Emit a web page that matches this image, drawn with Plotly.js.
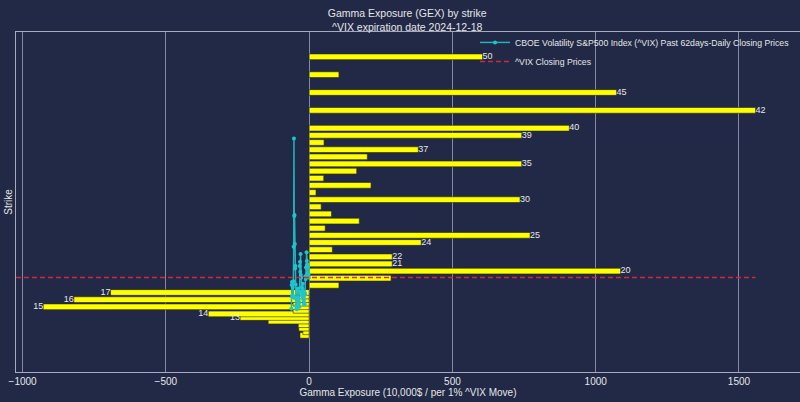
<!DOCTYPE html>
<html>
<head>
<meta charset="utf-8">
<script src="https://cdn.plot.ly/plotly-3.0.1.min.js"></script>
<style>
html, body { margin: 0; padding: 0; background: #212946; }
#plot { width: 800px; height: 402px; }
</style>
</head>
<body>
<div id="plot"></div>
<script>
// GEX by strike for ^VIX options expiring 2024-12-18
let strikes = [11, 11.5, 12, 12.5, 13, 13.5, 14, 14.5, 15, 15.5, 16, 16.5, 17,
    18, 19, 20, 21, 22, 23, 24, 25, 26, 27, 28, 29, 30, 31, 32, 33, 34, 35,
    36, 37, 38, 39, 40, 42.5, 45, 47.5, 50]
let gex = [-32, -22, -36, -38, -143, -241, -352, -56, -928, -56, -821, -56, -693,
    104, 286, 1087, 290, 290, 81, 391, 771, 56, 175, 78, 42, 736, 24, 216, 51, 166, 742,
    203, 381, 52, 742, 908, 1558, 1073, 104, 605]
// text shown at the end of the bigger bars ('' = no label)
let barLabels = ['', '', '', '', '', '13', '14', '', '15', '', '16', '', '17',
    '', '', '20', '21', '22', '', '24', '25', '', '', '', '', '30', '', '', '', '', '35',
    '', '37', '', '39', '40', '42', '45', '', '50']

// past 62 daily closes of ^VIX, oldest first
let vixClose = [14.72, 18.04, 18.46, 16.39, 16.60, 17.69, 16.36,
    18.59, 23.39, 38.57, 27.71, 27.85, 23.79, 20.37, 20.71, 18.12, 16.19, 15.23, 14.80,
    14.65, 15.88, 16.27, 17.55, 15.86, 16.15, 15.43, 17.11, 15.65, 15.00,
    20.72, 21.32, 19.90, 22.38, 19.45, 19.08, 17.69, 17.07, 16.56, 17.14, 17.61, 18.23,
    16.33, 16.15, 15.89, 15.39, 15.41, 15.37, 16.96, 16.73,
    19.26, 18.90, 20.49, 19.21, 22.64, 21.42, 20.86, 20.93, 20.46, 19.70, 20.64, 19.58, 19.11]

let xRange = [-1023, 1713]
let yRange = [5.87, 53.47]

// day offsets, -62 ... -1
let vixDays = vixClose.map((v, i) => i - vixClose.length)
let lastClose = vixClose[vixClose.length - 1]

let textColor = '#e6e6e6'
let fontFamily = 'Liberation Sans, Arial, sans-serif'

// split the labels into the right side (positive) and left side (negative)
let posX = [], posY = [], posT = []
let negX = [], negY = [], negT = []
for (var i = 0; i < strikes.length; i++)
{
    if (barLabels[i] === '') continue;
    if (gex[i] >= 0) {
        posX.push(gex[i]); posY.push(strikes[i]); posT.push(barLabels[i]);
    } else {
        negX.push(gex[i]); negY.push(strikes[i]); negT.push(barLabels[i]);
    }
}

let barTrace = {
    type: 'bar',
    orientation: 'h',
    x: gex,
    y: strikes,
    width: 0.8,
    marker: { color: '#ffff00', line: { color: '#2a2a1c', width: 0.6 } },
    showlegend: false,
    hoverinfo: 'x+y'
}

let posText = {
    type: 'scatter', mode: 'text',
    x: posX, y: posY, text: posT,
    textposition: 'middle right',
    textfont: { color: textColor, size: 9, family: fontFamily },
    showlegend: false, cliponaxis: false
}

let negText = {
    type: 'scatter', mode: 'text',
    x: negX, y: negY, text: negT,
    textposition: 'middle left',
    textfont: { color: textColor, size: 9, family: fontFamily },
    showlegend: false, cliponaxis: false
}

let vixTrace = {
    type: 'scatter',
    mode: 'lines+markers',
    x: vixDays,
    y: vixClose,
    name: 'CBOE Volatility S&P500 Index (^VIX) Past 62days-Daily Closing Prices',
    line: { color: '#1fb3bf', width: 1.5 },
    marker: { color: '#22c4cc', size: 4 }
}

let closeLine = {
    type: 'scatter',
    mode: 'lines',
    x: [xRange[0], Math.max(...gex)],
    y: [lastClose, lastClose],
    name: '^VIX Closing Prices',
    line: { color: '#d2283a', width: 1.5, dash: '5px,3px' }
}

let data = [barTrace, posText, negText, vixTrace, closeLine]

let layout = {
    width: 800,
    height: 402,
    paper_bgcolor: '#212946',
    plot_bgcolor: '#212946',
    font: { family: fontFamily, color: textColor, size: 10 },
    margin: { l: 16, r: 0, t: 32, b: 30, pad: 0, autoexpand: false },
    title: {
        text: 'Gamma Exposure (GEX) by strike<br>^VIX expiration date 2024-12-18',
        font: { size: 10.5, color: textColor },
        x: 0.509, xanchor: 'center',
        y: 0.958, yanchor: 'top', yref: 'container'
    },
    xaxis: {
        range: xRange,
        tickvals: [-1000, -500, 0, 500, 1000, 1500],
        showgrid: true,
        gridcolor: 'rgba(200,204,218,0.6)',
        gridwidth: 1,
        zeroline: false,
        showline: true,
        linecolor: 'rgba(210,214,228,0.75)',
        linewidth: 1,
        mirror: true,
        ticks: '',
        tickfont: { size: 10, color: textColor },
        automargin: false,
        title: { text: 'Gamma Exposure (10,000$ / per 1% ^VIX Move)', font: { size: 10 }, standoff: 2 }
    },
    yaxis: {
        range: yRange,
        showgrid: false,
        zeroline: false,
        showticklabels: false,
        showline: true,
        linecolor: 'rgba(210,214,228,0.75)',
        linewidth: 1,
        mirror: true,
        ticks: '',
        automargin: false,
        title: { text: 'Strike', font: { size: 10 }, standoff: 0 }
    },
    legend: {
        x: 0.5855, y: 1.012,
        xanchor: 'left', yanchor: 'top',
        bgcolor: 'rgba(0,0,0,0)',
        font: { size: 8.7, color: textColor }
    },
    showlegend: true,
    bargap: 0
}

Plotly.newPlot('plot', data, layout, { displayModeBar: false, staticPlot: true });
</script>
</body>
</html>
